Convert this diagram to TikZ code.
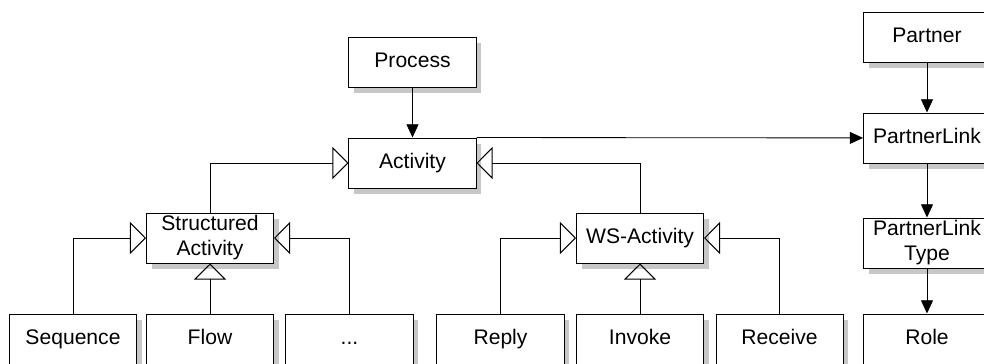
\documentclass[tikz,border=0pt]{standalone}
\usepackage{fontspec}
\setmainfont{Liberation Sans}
\usetikzlibrary{arrows.meta,shadows}
\begin{document}
\begin{tikzpicture}[x=0.025cm,y=-0.025cm,
 cls/.style={draw,fill=white,line width=0.7pt,minimum width=3.175cm,minimum height=1.25cm,inner sep=1pt,align=center,font=\fontsize{15}{17.8}\selectfont,drop shadow={shadow xshift=0.13cm,shadow yshift=-0.15cm,fill=black!22,opacity=1}},
 cls1/.style={cls,text height=1.4ex,text depth=0pt},
 isa/.style={line width=0.6pt,-{Triangle[open,length=0.4cm,width=0.8cm,line width=0.7pt]}},
 assoc/.style={line width=0.6pt,-{Triangle[length=0.33cm,width=0.3cm]}}]
\clip(0,0)rectangle(984,363);
\foreach \n/\x/\y/\t in {proc/412.5/62/Process,act/412.5/163/Activity,ws/640/238/WS-Activity,seq/73/339/Sequence,flow/210/339/Flow,reply/500.5/339/Reply,invoke/640/339/Invoke,receive/779.5/339/Receive,partner/927/37/Partner,plink/927/138/PartnerLink,role/927/339/Role}{\node[cls1](\n)at(\x,\y){\t};}
\node[cls1](more)at(349.5,339){...};
\node[cls](sa)at(210,238){Structured\\Activity};
\node[cls](pltype)at(927,243){PartnerLink\\Type};
\draw[assoc](proc)--(act);
\draw[assoc](act.north east)--(plink);
\foreach \a/\b in {partner/plink,plink/pltype,pltype/role}{\draw[assoc](\a)--(\b);}
\foreach \a/\b in {sa/act.west,ws/act.east,seq/sa.west,more/sa.east,reply/ws.west,receive/ws.east}{\draw[isa](\a.north)|-(\b);}
\foreach \a/\b in {flow/sa,invoke/ws}{\draw[isa](\a)--(\b);}
\end{tikzpicture}
\end{document}
